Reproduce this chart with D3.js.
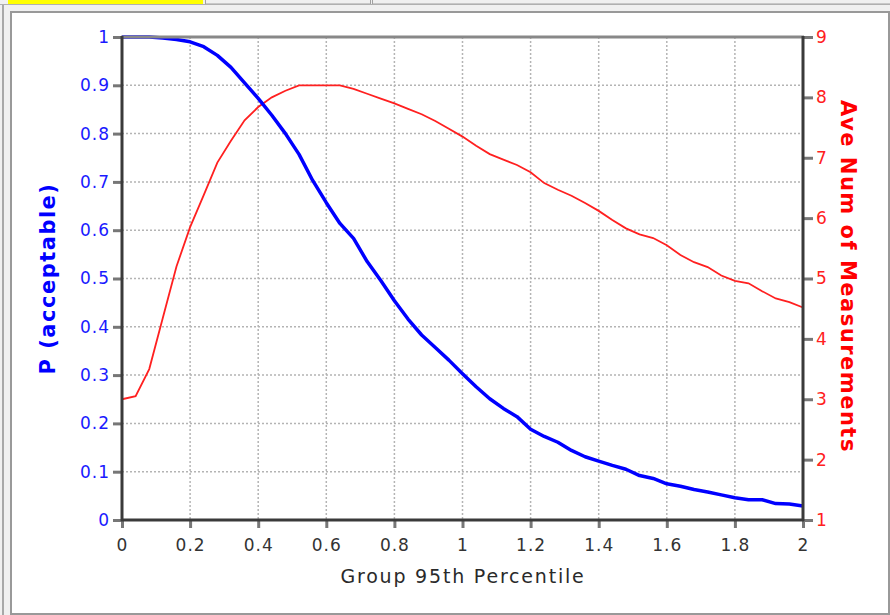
<!DOCTYPE html>
<html>
<head>
<meta charset="utf-8">
<script src="https://cdn.jsdelivr.net/npm/d3@7"></script>
<style>
    body { margin: 0; background: #f0f0f0; }
    #view { width: 890px; height: 615px; }
    text { font-family: "DejaVu Sans", Verdana, sans-serif; }
</style>
</head>
<body>
<div id="view"></div>
<script>

// x values: Group 95th Percentile
var xs = [0, 0.04, 0.08, 0.12, 0.16, 0.2, 0.24, 0.28, 0.32, 0.36, 0.4, 0.44, 0.48,
    0.52, 0.56, 0.6, 0.64, 0.68, 0.72, 0.76, 0.8, 0.84, 0.88, 0.92, 0.96, 1,
    1.04, 1.08, 1.12, 1.16, 1.2, 1.24, 1.28, 1.32, 1.36, 1.4, 1.44, 1.48, 1.52,
    1.56, 1.6, 1.64, 1.68, 1.72, 1.76, 1.8, 1.84, 1.88, 1.92, 1.96, 2];

// P (acceptable), left axis
var pAccept = [1, 1, 1, 0.998, 0.995, 0.99, 0.98, 0.962, 0.937, 0.905, 0.873, 0.838, 0.8,
    0.757, 0.703, 0.657, 0.614, 0.583, 0.535, 0.496, 0.454, 0.416, 0.383, 0.357, 0.331, 0.303,
    0.276, 0.251, 0.231, 0.214, 0.188, 0.173, 0.161, 0.144, 0.131, 0.122, 0.113, 0.105, 0.092,
    0.086, 0.075, 0.07, 0.063, 0.058, 0.052, 0.046, 0.042, 0.042, 0.034, 0.033, 0.029];

// Ave Num of Measurements, right axis
var aveNum = [3.0, 3.05, 3.5, 4.35, 5.2, 5.85, 6.38, 6.92, 7.28, 7.62, 7.84, 8.0, 8.11,
    8.2, 8.2, 8.2, 8.2, 8.14, 8.06, 7.98, 7.9, 7.81, 7.72, 7.61, 7.48, 7.35,
    7.2, 7.06, 6.97, 6.88, 6.76, 6.58, 6.47, 6.37, 6.25, 6.12, 5.97, 5.83, 5.73,
    5.67, 5.55, 5.39, 5.27, 5.19, 5.05, 4.96, 4.92, 4.79, 4.67, 4.61, 4.52];

var xTicks = [0, 0.2, 0.4, 0.6, 0.8, 1, 1.2, 1.4, 1.6, 1.8, 2];
var leftTicks = [0, 0.1, 0.2, 0.3, 0.4, 0.5, 0.6, 0.7, 0.8, 0.9, 1];
var rightTicks = [1, 2, 3, 4, 5, 6, 7, 8, 9];

var titles = {
    x: "Group 95th Percentile",
    left: "P (acceptable)",
    right: "Ave Num of Measurements",
};

var plot = {left: 122, right: 803, top: 37, bottom: 520};

var svg = d3.select("#view").append("svg")
    .attr("width", 890)
    .attr("height", 615)
;

drawFrame(svg);

var x = d3.scaleLinear().domain([0, 2]).range([plot.left, plot.right]);
var yL = d3.scaleLinear().domain([0, 1]).range([plot.bottom, plot.top]);
var yR = d3.scaleLinear().domain([1, 9]).range([plot.bottom, plot.top]);

drawGrid(svg);
drawLines(svg);
drawAxes(svg);

function drawFrame(svg) {
    // tab strip at the top
    svg.append("rect").attr("x", 8).attr("y", 0).attr("width", 195).attr("height", 4)
        .attr("fill", "#ffff00");
    svg.append("rect").attr("x", 205.5).attr("y", -2).attr("width", 165).attr("height", 6)
        .attr("fill", "#f0f0f0").attr("stroke", "#a0a0a0");
    svg.append("rect").attr("x", 372.5).attr("y", -2).attr("width", 530).attr("height", 6)
        .attr("fill", "#f0f0f0").attr("stroke", "#a0a0a0");
    svg.append("line").attr("x1", 0).attr("x2", 890).attr("y1", 4.5).attr("y2", 4.5)
        .attr("stroke", "#b0b0b0");
    svg.append("line").attr("x1", 3).attr("x2", 3).attr("y1", 5).attr("y2", 615)
        .attr("stroke", "#a8a8a8").attr("stroke-width", 2);
    // white panel
    svg.append("rect").attr("x", 11).attr("y", 12).attr("width", 878).attr("height", 602)
        .attr("fill", "#ffffff").attr("stroke", "#999").attr("stroke-width", 2);
}

function drawGrid(svg) {
    var g = svg.append("g").attr("class", "grid")
        .attr("stroke", "#b4b4b4")
        .attr("stroke-width", 1.5)
        .attr("stroke-dasharray", "2,2");
    g.selectAll(".gx").data(xTicks.slice(1, -1)).enter().append("line")
        .attr("x1", d => x(d)).attr("x2", d => x(d))
        .attr("y1", plot.top).attr("y2", plot.bottom);
    g.selectAll(".gy").data(leftTicks.slice(1, -1)).enter().append("line")
        .attr("x1", plot.left).attr("x2", plot.right)
        .attr("y1", d => yL(d)).attr("y2", d => yL(d));
}

function drawLines(svg) {
    var rows = xs.map((v, i) => ({x: v, p: pAccept[i], m: aveNum[i]}));
    var lineP = d3.line().x(d => x(d.x)).y(d => yL(d.p));
    var lineM = d3.line().x(d => x(d.x)).y(d => yR(d.m));
    svg.append("path").datum(rows)
        .attr("fill", "none").attr("stroke", "#ff2020").attr("stroke-width", 1.8)
        .attr("d", lineM);
    svg.append("path").datum(rows)
        .attr("fill", "none").attr("stroke", "#0000ff").attr("stroke-width", 3.5)
        .attr("stroke-linejoin", "round")
        .attr("d", lineP);
}

function styleAxis(g, color) {
    g.select(".domain").remove();
    g.selectAll(".tick line").attr("stroke", "#777").attr("stroke-width", 3);
    g.selectAll(".tick text")
        .attr("fill", color)
        .style("font-size", "17px")
        .style("letter-spacing", "1px")
        .attr("font-family", null);
}

function drawAxes(svg) {
    var fmt = d => d3.format("")(+d.toFixed(2));

    var gx = svg.append("g")
        .attr("transform", `translate(0, ${plot.bottom})`)
        .call(d3.axisBottom(x).tickValues(xTicks).tickFormat(fmt).tickSize(8).tickPadding(11))
        .call(g => styleAxis(g, "#333"));

    var gl = svg.append("g")
        .attr("transform", `translate(${plot.left}, 0)`)
        .call(d3.axisLeft(yL).tickValues(leftTicks).tickFormat(fmt).tickSize(9).tickPadding(3))
        .call(g => styleAxis(g, "#1a1aff"));

    var gr = svg.append("g")
        .attr("transform", `translate(${plot.right}, 0)`)
        .call(d3.axisRight(yR).tickValues(rightTicks).tickFormat(fmt).tickSize(10).tickPadding(3))
        .call(g => styleAxis(g, "#ff2020"));

    // frame lines
    svg.append("line")
        .attr("x1", plot.left - 1).attr("x2", plot.right + 1)
        .attr("y1", plot.top).attr("y2", plot.top)
        .attr("stroke", "#888").attr("stroke-width", 3);
    svg.append("line")
        .attr("x1", plot.left).attr("x2", plot.left)
        .attr("y1", plot.top - 1).attr("y2", plot.bottom + 1)
        .attr("stroke", "#3a3a3a").attr("stroke-width", 3);
    svg.append("line")
        .attr("x1", plot.right).attr("x2", plot.right)
        .attr("y1", plot.top - 1).attr("y2", plot.bottom + 1)
        .attr("stroke", "#3a3a3a").attr("stroke-width", 3);
    svg.append("line")
        .attr("x1", plot.left - 1).attr("x2", plot.right + 1)
        .attr("y1", plot.bottom).attr("y2", plot.bottom)
        .attr("stroke", "#3a3a3a").attr("stroke-width", 3);

    // titles
    svg.append("text")
        .attr("x", 463)
        .attr("y", 583)
        .attr("text-anchor", "middle")
        .attr("fill", "#2a2a2a")
        .style("font-size", "19px")
        .style("letter-spacing", "1.8px")
        .text(titles.x);

    svg.append("text")
        .attr("transform", `translate(55, ${(plot.top + plot.bottom) / 2}) rotate(-90)`)
        .attr("text-anchor", "middle")
        .attr("fill", "#0000ff")
        .style("font-size", "21px")
        .style("font-weight", "bold")
        .style("letter-spacing", "1.5px")
        .text(titles.left);

    svg.append("text")
        .attr("transform", `translate(841, ${(plot.top + plot.bottom) / 2 - 2}) rotate(90)`)
        .attr("text-anchor", "middle")
        .attr("fill", "#ff0000")
        .style("font-size", "21px")
        .style("font-weight", "bold")
        .style("letter-spacing", "1.5px")
        .text(titles.right);
}

</script>
</body>
</html>
